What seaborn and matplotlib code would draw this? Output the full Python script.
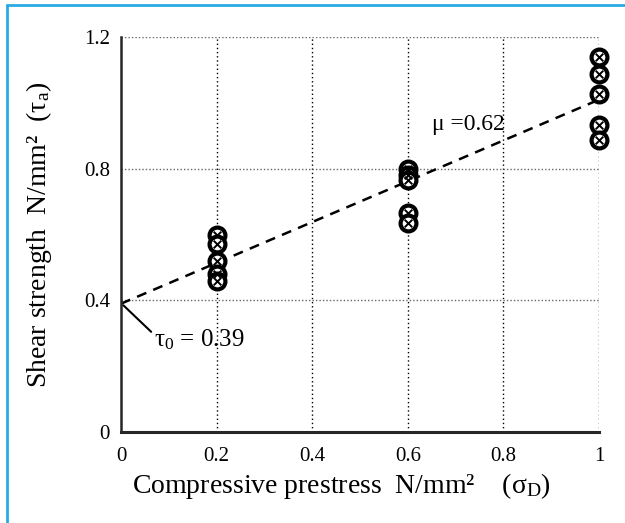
import matplotlib
matplotlib.use("Agg")
import matplotlib.pyplot as plt
import numpy as np
import pandas as pd
import seaborn as sns
from matplotlib.lines import Line2D

# data
prestress = [0.2, 0.2, 0.2, 0.2, 0.2,
             0.6, 0.6, 0.6, 0.6, 0.6,
             1.0, 1.0, 1.0, 1.0, 1.0]
shear = [0.60, 0.57, 0.52, 0.48, 0.46,
         0.80, 0.78, 0.765, 0.667, 0.636,
         1.14, 1.088, 1.027, 0.933, 0.888]
tau0 = 0.39
mu = 0.62
x_ticks = [0, 0.2, 0.4, 0.6, 0.8, 1]
x_ticklabels = ["0", "0.2", "0.4", "0.6", "0.8", "1"]
y_ticks = [0, 0.4, 0.8, 1.2]
y_ticklabels = ["0", "0.4", "0.8", "1.2"]

df = pd.DataFrame({"prestress": prestress, "shear": shear})

sns.set_style("white")
plt.rcParams["font.family"] = ["Liberation Serif", "DejaVu Serif"]
plt.rcParams["mathtext.fontset"] = "custom"
plt.rcParams["mathtext.rm"] = "Liberation Serif"
plt.rcParams["mathtext.it"] = "Liberation Serif:italic"
plt.rcParams["text.color"] = "black"
plt.rcParams["axes.labelcolor"] = "black"
plt.rcParams["xtick.color"] = "black"
plt.rcParams["ytick.color"] = "black"

fig = plt.figure(figsize=(6.25, 5.23), dpi=100)
ax = fig.add_axes([0.1936, 0.174, 0.7648, 0.755])

# light blue frame of the page
fig.add_artist(Line2D([0.0115, 0.0115], [0, 0.99], transform=fig.transFigure, color="#29abe2", lw=2))
fig.add_artist(Line2D([0.0115, 1.0], [0.99, 0.99], transform=fig.transFigure, color="#29abe2", lw=2))

# dotted grid
for gx in x_ticks[1:]:
    ax.axvline(gx, color="black", ls=(0, (1, 2)), lw=1, zorder=1)
for gy in y_ticks:
    ax.axhline(gy, color="0.4", ls=(0, (1, 1.5)), lw=1, zorder=1)

# fitted line
xs = np.array([0, 1])
ax.plot(xs, tau0 + mu * xs, color="black", ls=(0, (4, 3)), lw=1.8, zorder=2)

# circled-cross markers
sns.scatterplot(data=df, x="prestress", y="shear", ax=ax, s=130, marker="o",
                facecolor="white", edgecolor="black", linewidth=3.0, zorder=3, clip_on=False)
sns.scatterplot(data=df, x="prestress", y="shear", ax=ax, s=30, marker="x",
                color="black", linewidth=1.4, zorder=4, clip_on=False)

ax.set_xlim(0, 1)
ax.set_ylim(0, 1.2)
ax.set_xticks(x_ticks)
ax.set_xticklabels(x_ticklabels)
ax.set_yticks(y_ticks)
ax.set_yticklabels(y_ticklabels)
ax.tick_params(axis="both", direction="inout", length=8, width=1.2, labelsize=15, pad=4)
ax.tick_params(axis="x", pad=7)

for side in ["top", "right"]:
    ax.spines[side].set_visible(False)
ax.spines["left"].set_linewidth(1.8)
ax.spines["bottom"].set_linewidth(2.2)

ax.set_xlabel("Compressive prestress  N/mm²    (σ$_{\\rm D}$)", fontsize=20)
ax.set_ylabel("Shear strength  N/mm²  (τ$_{\\rm a}$)", fontsize=20)
ax.xaxis.set_label_coords(0.462, -0.1)
ax.yaxis.set_label_coords(-0.14, 0.5)

ax.text(0.65, 0.935, "μ =0.62", fontsize=17, va="center", ha="left")
ax.annotate("τ$_{\\rm 0}$ = 0.39", xy=(0.005, 0.385), xytext=(0.07, 0.28),
            fontsize=18, va="center", ha="left",
            arrowprops=dict(arrowstyle="-", color="black", lw=1.5,
                            shrinkA=0, shrinkB=0, relpos=(0, 0.7)))

fig.savefig("out.png", dpi=100)
